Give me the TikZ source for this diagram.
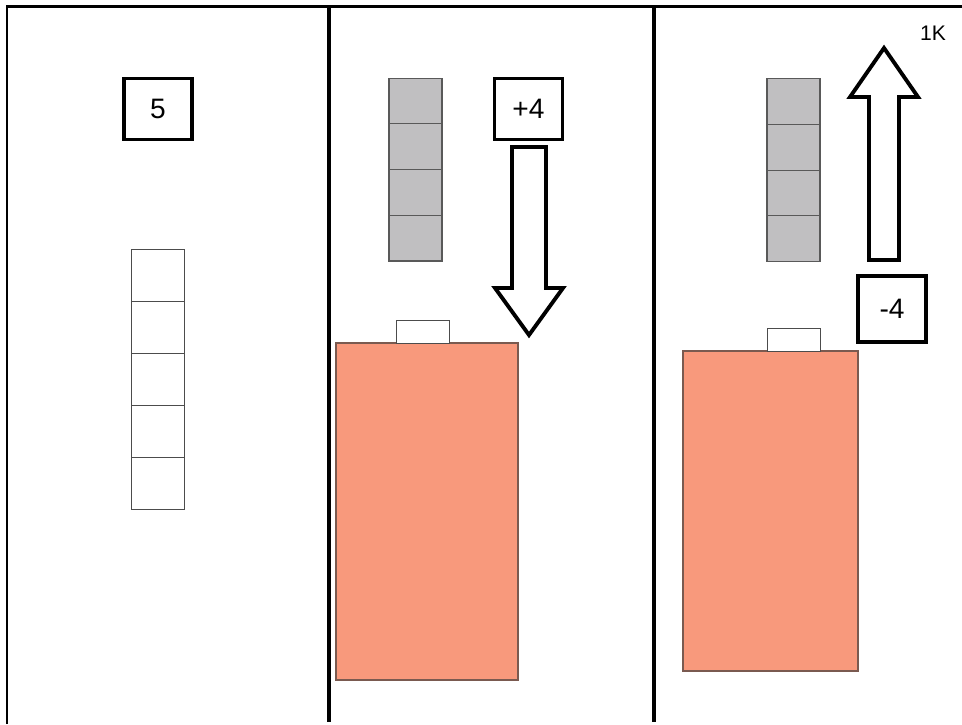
\documentclass[tikz,border=0pt]{standalone}
\usepackage{fontspec}
\setmainfont{Liberation Sans}
\usepackage{tikz}
\usetikzlibrary{positioning}

\definecolor{packred}{HTML}{F8997C}
\definecolor{packedge}{HTML}{7A5A50}
\definecolor{cellgray}{HTML}{C0BFC1}

\begin{document}
\begin{tikzpicture}[x=0.02cm, y=-0.02cm, node distance=0pt,
    numbox/.style={rectangle, draw=black, line width=2.2pt, text centered, inner sep=0pt, outer sep=0pt, minimum width=1.36cm, minimum height=1.22cm, fill=white, font=\fontsize{16}{18}\selectfont},
    cellbox/.style={rectangle, draw=black!70, line width=0.5pt, inner sep=0pt, outer sep=0pt, minimum width=1.06cm, minimum height=1.04cm, fill=white},
    graybox/.style={rectangle, draw=black!65, line width=0.7pt, inner sep=0pt, outer sep=0pt, minimum width=1.06cm, minimum height=0.915cm, fill=cellgray},
    capbox/.style={rectangle, draw=black!70, line width=0.5pt, inner sep=0pt, outer sep=0pt, minimum width=1.06cm, minimum height=0.45cm, fill=white},
    packbox/.style={rectangle, draw=packedge, line width=0.7pt, inner sep=0pt, outer sep=0pt, fill=packred},
    rule/.style={draw=black, line width=2pt},
    blockarrow/.style={draw=black, line width=2.2pt, fill=white, miter limit=10}]

    \useasboundingbox (0,0) rectangle (962,724);

    %% frame
    \coordinate (topleft) at (7,6.5);
    \coordinate (topright) at (962,6.5);
    \coordinate (botleft) at (7,724);
    \coordinate (div1top) at (329,6.5);
    \coordinate (div1bot) at (329,722);
    \coordinate (div2top) at (654,6.5);
    \coordinate (div2bot) at (654,722);
    \draw[line width=1.2pt] (botleft) -- (topleft) -- (topright);
    \draw[rule] (div1top) -- (div1bot);
    \draw[rule] (div2top) -- (div2bot);

    %% left panel
    \node (five) [numbox] at (158,109) {5};
    \node (a1) [cellbox] at (158,275.5) {};
    \node (a2) [cellbox, below=of a1] {};
    \node (a3) [cellbox, below=of a2] {};
    \node (a4) [cellbox, below=of a3] {};
    \node (a5) [cellbox, below=of a4] {};

    %% middle panel
    \node (b1) [graybox] at (415.5,101) {};
    \node (b2) [graybox, below=of b1] {};
    \node (b3) [graybox, below=of b2] {};
    \node (b4) [graybox, below=of b3] {};
    \node (plus) [numbox] at (528.5,109) {+4};
    \draw[blockarrow] (512,147) -- (546,147) -- (546,288) -- (563,288) -- (529,335) -- (495,288) -- (512,288) -- cycle;
    \node (pack1) [packbox, minimum width=3.64cm, minimum height=6.74cm] at (427,511.5) {};
    \node (cap1) [capbox, above=of pack1, xshift=-0.09cm] {};

    %% right panel
    \node (c1) [graybox] at (793.5,101.5) {};
    \node (c2) [graybox, below=of c1] {};
    \node (c3) [graybox, below=of c2] {};
    \node (c4) [graybox, below=of c3] {};
    \draw[blockarrow] (869,260) -- (899,260) -- (899,97) -- (918,97) -- (884,48) -- (850,97) -- (869,97) -- cycle;
    \node (minus) [numbox, minimum height=1.32cm] at (892,309) {-4};
    \node (pack2) [packbox, minimum width=3.5cm, minimum height=6.4cm] at (770.5,511) {};
    \node (cap2) [capbox, above=of pack2, xshift=0.46cm] {};
    \node (onek) at (933,33) {\fontsize{12}{14}\selectfont 1K};

\end{tikzpicture}
\end{document}
